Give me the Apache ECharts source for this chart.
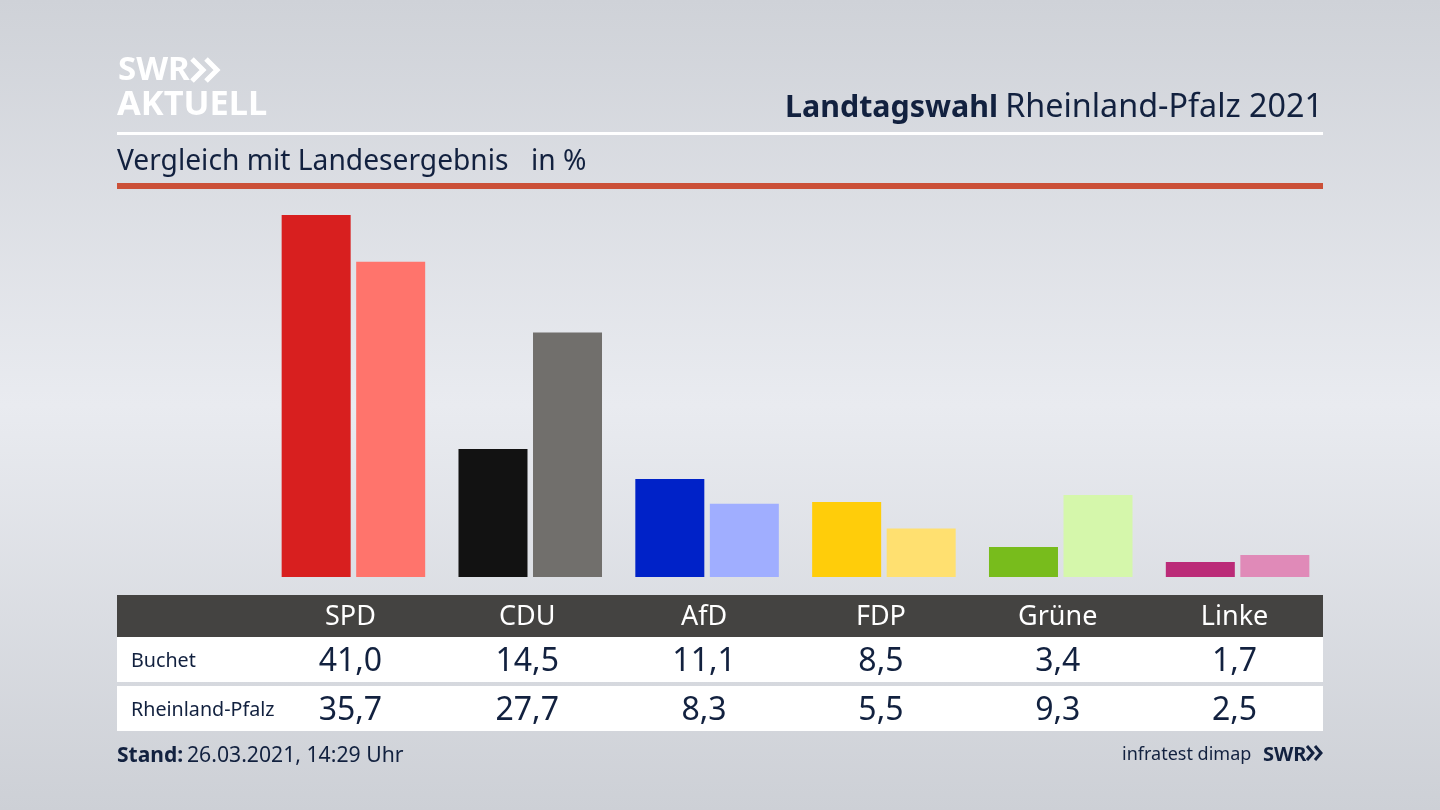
<!DOCTYPE html>
<html><head><meta charset="utf-8">
<style>html,body{margin:0;padding:0;width:1440px;height:810px;overflow:hidden}#c{width:1440px;height:810px}</style>
<script src="https://cdn.jsdelivr.net/npm/echarts@6/dist/echarts.min.js"></script></head>
<body><div id="c"></div>
<script>
const parties = ['SPD','CDU','AfD','FDP','Grüne','Linke'];
const buchet = [41.0,14.5,11.1,8.5,3.4,1.7];
const land = [35.7,27.7,8.3,5.5,9.3,2.5];
const colorsBuchet = ['#d81f1f','#121212','#0022c8','#ffcd0a','#78bc1c','#bb2b78'];
const colorsLand = ['#ff746c','#716f6c','#a0aeff','#ffe070','#d5f7ab','#e08ab8'];
const rowNames = ['Buchet','Rheinland-Pfalz'];
const FONT = '"Noto Sans"';
const INK = '#12213f';
const fmt = v => v.toFixed(1).replace('.',',');
const rect = (x,y,w,h,fill) => ({type:'rect',z:-1,shape:{x,y,width:w,height:h},style:{fill}});
const txt = (x,y,text,size,fill,extra) => ({type:'text',x,y,z:5,style:Object.assign({text,fill,font:`${size}px ${FONT}`,textAlign:'left',textVerticalAlign:'middle'},extra||{})});
const chevrons = (x,y,w,h,gap,stroke,lw) => [0,1].map(i => ({type:'polyline',z:5,shape:{points:[[x+i*gap,y],[x+i*gap+w,y+h/2],[x+i*gap,y+h]]},style:{stroke,lineWidth:lw,fill:'none'}}));
const valueAxis = (data,margin,size,color) => ({type:'category',position:'bottom',data,axisLine:{show:false},axisTick:{show:false},
  axisLabel:{interval:0,margin,fontFamily:FONT,fontSize:size,color,verticalAlign:'middle',lineHeight:size,padding:[0,6,0,0]}});
const makeSeries = (values,colors) => ({type:'bar',barWidth:69,barGap:'8%',silent:true,
  data:values.map((v,i)=>({value:v,itemStyle:{color:colors[i]}}))});
const chart = echarts.init(document.getElementById('c'),null,{renderer:'canvas'});
chart.setOption({
  animation:false,
  backgroundColor:{type:'linear',x:0,y:0,x2:0,y2:1,colorStops:[{offset:0,color:'#cfd2d8'},{offset:0.5,color:'#e9ebf0'},{offset:1,color:'#cdd0d6'}]},
  grid:{left:265,right:114,top:215,bottom:233,containLabel:false},
  xAxis:[
    valueAxis(parties,40,27,'#ffffff'),
    valueAxis(buchet.map(fmt),85,32,INK),
    valueAxis(land.map(fmt),134,32,INK)
  ],
  yAxis:{type:'value',min:0,max:41,show:false},
  series:[makeSeries(buchet,colorsBuchet),makeSeries(land,colorsLand)],
  graphic:{elements:[
    rect(117,132,1206,3,'#ffffff'),
    rect(117,183,1206,6,'#cb5038'),
    rect(117,595,1206,42,'#444341'),
    rect(117,637,1206,45,'#ffffff'),
    rect(117,686,1206,45,'#ffffff'),
    txt(118,71,'SWR',33,'#ffffff',{font:`bold 33px ${FONT}`}),
    ...chevrons(192,59,11,22,14,'#ffffff',5),
    txt(117,105,'AKTUELL',34.4,'#ffffff',{font:`bold 34.4px ${FONT}`}),
    txt(785,108,'Landtagswahl',30.4,INK,{font:`bold 30.4px ${FONT}`}),
    txt(1323,108,'Rheinland-Pfalz 2021',32.3,INK,{textAlign:'right'}),
    txt(117,162,'Vergleich mit Landesergebnis',28.2,INK),
    txt(531,162,'in %',28.2,INK),
    txt(131,661,rowNames[0],19.7,INK),
    txt(131,710,rowNames[1],19.7,INK),
    txt(117,756,'Stand:',21,INK,{font:`bold 21px ${FONT}`}),
    txt(187,756,'26.03.2021, 14:29 Uhr',21.2,INK),
    txt(1122,755,'infratest dimap',18,INK),
    txt(1263,755,'SWR',20,INK,{font:`bold 20px ${FONT}`}),
    ...chevrons(1307,746,6,14,8,INK,3)
  ]}
});
</script></body></html>
